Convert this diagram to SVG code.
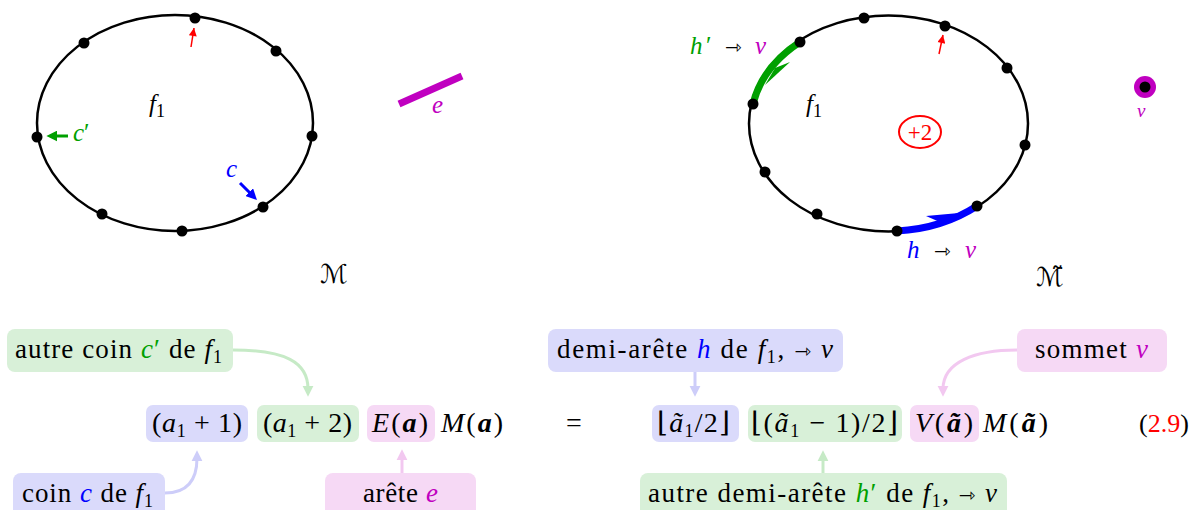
<svg xmlns="http://www.w3.org/2000/svg" width="1194" height="510" viewBox="0 0 1194 510">
<style>
.t{font-family:"Liberation Serif","Times New Roman","DejaVu Serif",serif;font-size:25px;fill:#000}
.l{font-size:27px}
.m{font-size:28px}
.i{font-style:italic}
.b{font-weight:bold;font-style:italic}
.sub{font-size:18px}
.sym{font-family:"DejaVu Sans",sans-serif;font-size:20px}
.cal{font-family:"DejaVu Sans",sans-serif;font-size:26px}
.dot{fill:#000}
.ell{fill:none;stroke:#000;stroke-width:2.5}
.bg{fill:#d8f0d8}.bb{fill:#dadafb}.bp{fill:#f6d9f5}
.cg{fill:#00a000}.cb{fill:#0000ff}.cm{fill:#c000c0}.cr{fill:#ff0000}
.conn{fill:none;stroke-width:3}
</style>
<defs>
<marker id="ah-lg" viewBox="0 0 10 10" refX="3" refY="5" markerWidth="11" markerHeight="12" markerUnits="userSpaceOnUse" orient="auto"><path d="M0,0 L10,5 L0,10 z" fill="#c6eac6"/></marker>
<marker id="ah-lb" viewBox="0 0 10 10" refX="3" refY="5" markerWidth="11" markerHeight="12" markerUnits="userSpaceOnUse" orient="auto"><path d="M0,0 L10,5 L0,10 z" fill="#cdcdf9"/></marker>
<marker id="ah-lp" viewBox="0 0 10 10" refX="3" refY="5" markerWidth="11" markerHeight="12" markerUnits="userSpaceOnUse" orient="auto"><path d="M0,0 L10,5 L0,10 z" fill="#f2c8f0"/></marker>
<marker id="ah-r" viewBox="0 0 10 10" refX="10" refY="5" markerWidth="9" markerHeight="8" markerUnits="userSpaceOnUse" orient="auto"><path d="M0,0 L10,5 L0,10 z" fill="#ff0000"/></marker>
<marker id="ah-g" viewBox="0 0 10 10" refX="4" refY="5" markerWidth="11" markerHeight="11" markerUnits="userSpaceOnUse" orient="auto"><path d="M0,0 L10,5 L0,10 z" fill="#00a000"/></marker>
<marker id="ah-b" viewBox="0 0 10 10" refX="4" refY="5" markerWidth="11" markerHeight="11" markerUnits="userSpaceOnUse" orient="auto"><path d="M0,0 L10,5 L0,10 z" fill="#0000ff"/></marker>
</defs>

<!-- Left map M -->
<g id="face-M">
<ellipse class="ell" cx="175" cy="123" rx="138" ry="108"/>
<circle class="dot" cx="195" cy="18" r="5.5"/>
<circle class="dot" cx="84" cy="43" r="5.5"/>
<circle class="dot" cx="276" cy="51" r="5.5"/>
<circle class="dot" cx="37" cy="137" r="5.5"/>
<circle class="dot" cx="312" cy="136" r="5.5"/>
<circle class="dot" cx="102" cy="214" r="5.5"/>
<circle class="dot" cx="182" cy="231" r="5.5"/>
<circle class="dot" cx="263" cy="207" r="5.5"/>
<text class="t" x="149" y="112"><tspan class="i">f</tspan><tspan class="sub" dy="5">1</tspan></text>
</g>
<g id="label-cprime"><text class="t cg" x="73" y="141"><tspan class="i">c</tspan>′</text></g>
<g id="label-c"><text class="t cb i" x="226" y="177">c</text></g>
<g id="edge-e">
<line x1="399" y1="104" x2="462" y2="76" stroke="#c000c0" stroke-width="7"/>
<text class="t cm i" x="432" y="113">e</text>
</g>
<g id="label-M"><text class="cal" x="320" y="283">ℳ</text></g>

<!-- Right map M~ -->
<g id="face-Mt">
<ellipse class="ell" cx="888.5" cy="123.5" rx="139.5" ry="108"/>
<path d="M800,42 A139.5,108 0 0 0 753,104" fill="none" stroke="#00a000" stroke-width="7"/>
<polygon points="790,62 775,68 765,85" fill="#00a000"/>
<path d="M897,231 A139.5,108 0 0 0 977,206" fill="none" stroke="#0000ff" stroke-width="7"/>
<polygon points="926,216 942,223 959,213" fill="#0000ff"/>
<circle class="dot" cx="864" cy="18" r="5.5"/>
<circle class="dot" cx="945" cy="26" r="5.5"/>
<circle class="dot" cx="800" cy="42" r="5.5"/>
<circle class="dot" cx="1007" cy="68" r="5.5"/>
<circle class="dot" cx="753" cy="104" r="5.5"/>
<circle class="dot" cx="1025" cy="145" r="5.5"/>
<circle class="dot" cx="765" cy="172" r="5.5"/>
<circle class="dot" cx="977" cy="206" r="5.5"/>
<circle class="dot" cx="817" cy="214" r="5.5"/>
<circle class="dot" cx="897" cy="231" r="5.5"/>
<text class="t" x="806" y="112"><tspan class="i">f</tspan><tspan class="sub" dy="5">1</tspan></text>
<ellipse cx="920" cy="132" rx="21" ry="16" fill="none" stroke="#ff0000" stroke-width="2"/>
<text class="t cr" x="920" y="140" text-anchor="middle" style="font-size:23px">+2</text>
</g>
<g id="label-hprime"><text class="t" x="690" y="54" textLength="76"><tspan class="i cg">h</tspan><tspan class="cg">′</tspan> <tspan class="sym">⇾</tspan> <tspan class="i cm">v</tspan></text></g>
<g id="label-h"><text class="t" x="907" y="258" textLength="69"><tspan class="i cb">h</tspan> <tspan class="sym">⇾</tspan> <tspan class="i cm">v</tspan></text></g>
<g id="vertex-v">
<circle cx="1145" cy="87" r="11" fill="#c000c0"/>
<circle cx="1145" cy="87" r="5.5" fill="#000"/>
<text class="t i cm" x="1137" y="117" style="font-size:19px">v</text>
</g>
<g id="label-Mt"><text class="cal" x="1036" y="286">ℳ̃</text></g>

<!-- Connectors -->
<g id="connectors">
<path class="conn" d="M233,350 C285,350 308,362 308,389" stroke="#c6eac6" marker-end="url(#ah-lg)"/>
<path class="conn" d="M165,493 C187,493 197,480 197,458" stroke="#cdcdf9" marker-end="url(#ah-lb)"/>
<path class="conn" d="M402,473 L402,457" stroke="#f2c8f0" marker-end="url(#ah-lp)"/>
<path class="conn" d="M695,372 L695,389" stroke="#cdcdf9" marker-end="url(#ah-lb)"/>
<path class="conn" d="M1017,350 C975,350 943,362 943,389" stroke="#f2c8f0" marker-end="url(#ah-lp)"/>
<path class="conn" d="M823,473 L823,458" stroke="#c6eac6" marker-end="url(#ah-lg)"/>
<path d="M191,47 L194,28" fill="none" stroke="#ff0000" stroke-width="1.5" marker-end="url(#ah-r)"/>
<path d="M939,54 L943,35" fill="none" stroke="#ff0000" stroke-width="1.5" marker-end="url(#ah-r)"/>
<path d="M68,136 L53,136" fill="none" stroke="#00a000" stroke-width="3" marker-end="url(#ah-g)"/>
<path d="M240,183 L252.3,195.3" fill="none" stroke="#0000ff" stroke-width="3" marker-end="url(#ah-b)"/>
</g>

<!-- Bottom formula -->
<g id="note-autre-coin">
<rect class="bg" x="7" y="329" width="226" height="43" rx="8"/>
<text class="t l" x="15" y="358" textLength="207">autre coin <tspan class="i cg">c</tspan><tspan class="cg">′</tspan> de <tspan class="i">f</tspan><tspan class="sub" dy="5">1</tspan></text>
</g>
<g id="note-coin">
<rect class="bb" x="13" y="473" width="152" height="44" rx="8"/>
<text class="t l" x="22" y="502" textLength="131">coin <tspan class="i cb">c</tspan> de <tspan class="i">f</tspan><tspan class="sub" dy="5">1</tspan></text>
</g>
<g id="note-arete">
<rect class="bp" x="325" y="473" width="151" height="44" rx="8"/>
<text class="t l" x="363" y="502" textLength="75">arête <tspan class="i cm">e</tspan></text>
</g>
<g id="term-a1p1">
<rect class="bb" x="146" y="405" width="102" height="37" rx="7"/>
<text class="t m" x="152" y="432" textLength="90">(<tspan class="i">a</tspan><tspan class="sub" dy="5">1</tspan><tspan dy="-5"> + 1)</tspan></text>
</g>
<g id="term-a1p2">
<rect class="bg" x="257" y="405" width="102" height="37" rx="7"/>
<text class="t m" x="263" y="432" textLength="89">(<tspan class="i">a</tspan><tspan class="sub" dy="5">1</tspan><tspan dy="-5"> + 2)</tspan></text>
</g>
<g id="term-Ea">
<rect class="bp" x="367" y="405" width="68" height="37" rx="7"/>
<text class="t m" x="372" y="432" textLength="56"><tspan class="i">E</tspan>(<tspan class="b">a</tspan>)</text>
</g>
<g id="term-Ma"><text class="t m" x="441" y="432" textLength="62"><tspan class="i">M</tspan>(<tspan class="b">a</tspan>)</text></g>
<g id="equals"><text class="t m" x="566" y="432">=</text></g>
<g id="note-demi-arete">
<rect class="bb" x="548" y="329" width="295" height="43" rx="8"/>
<text class="t l" x="557" y="358" textLength="276">demi-arête <tspan class="i cb">h</tspan> de <tspan class="i">f</tspan><tspan class="sub" dy="5">1</tspan><tspan dy="-5">, </tspan><tspan class="sym">⇾</tspan> <tspan class="i">v</tspan></text>
</g>
<g id="note-sommet">
<rect class="bp" x="1017" y="329" width="150" height="43" rx="8"/>
<text class="t l" x="1035" y="358" textLength="113">sommet <tspan class="i cm">v</tspan></text>
</g>
<g id="note-autre-demi">
<rect class="bg" x="640" y="473" width="367" height="44" rx="8"/>
<text class="t l" x="648" y="502" textLength="349">autre demi-arête <tspan class="i cg">h</tspan><tspan class="cg">′</tspan> de <tspan class="i">f</tspan><tspan class="sub" dy="5">1</tspan><tspan dy="-5">, </tspan><tspan class="sym">⇾</tspan> <tspan class="i">v</tspan></text>
</g>
<g id="term-floor1">
<rect class="bb" x="652" y="405" width="87" height="37" rx="7"/>
<text class="t m" x="657" y="432" textLength="73">⌊<tspan class="i">ã</tspan><tspan class="sub" dy="5">1</tspan><tspan dy="-5">/2⌋</tspan></text>
</g>
<g id="term-floor2">
<rect class="bg" x="748" y="405" width="154" height="37" rx="7"/>
<text class="t m" x="751" y="432" textLength="147">⌊(<tspan class="i">ã</tspan><tspan class="sub" dy="5">1</tspan><tspan dy="-5"> − 1)/2⌋</tspan></text>
</g>
<g id="term-Va">
<rect class="bp" x="910" y="405" width="69" height="37" rx="7"/>
<text class="t m" x="915" y="432" textLength="58"><tspan class="i">V</tspan>(<tspan class="b">ã</tspan>)</text>
</g>
<g id="term-Mat"><text class="t m" x="983" y="432" textLength="65"><tspan class="i">M</tspan>(<tspan class="b">ã</tspan>)</text></g>
<g id="eqnum"><text class="t" x="1139" y="432" style="font-size:26px">(<tspan class="cr">2.9</tspan>)</text></g>
</svg>
